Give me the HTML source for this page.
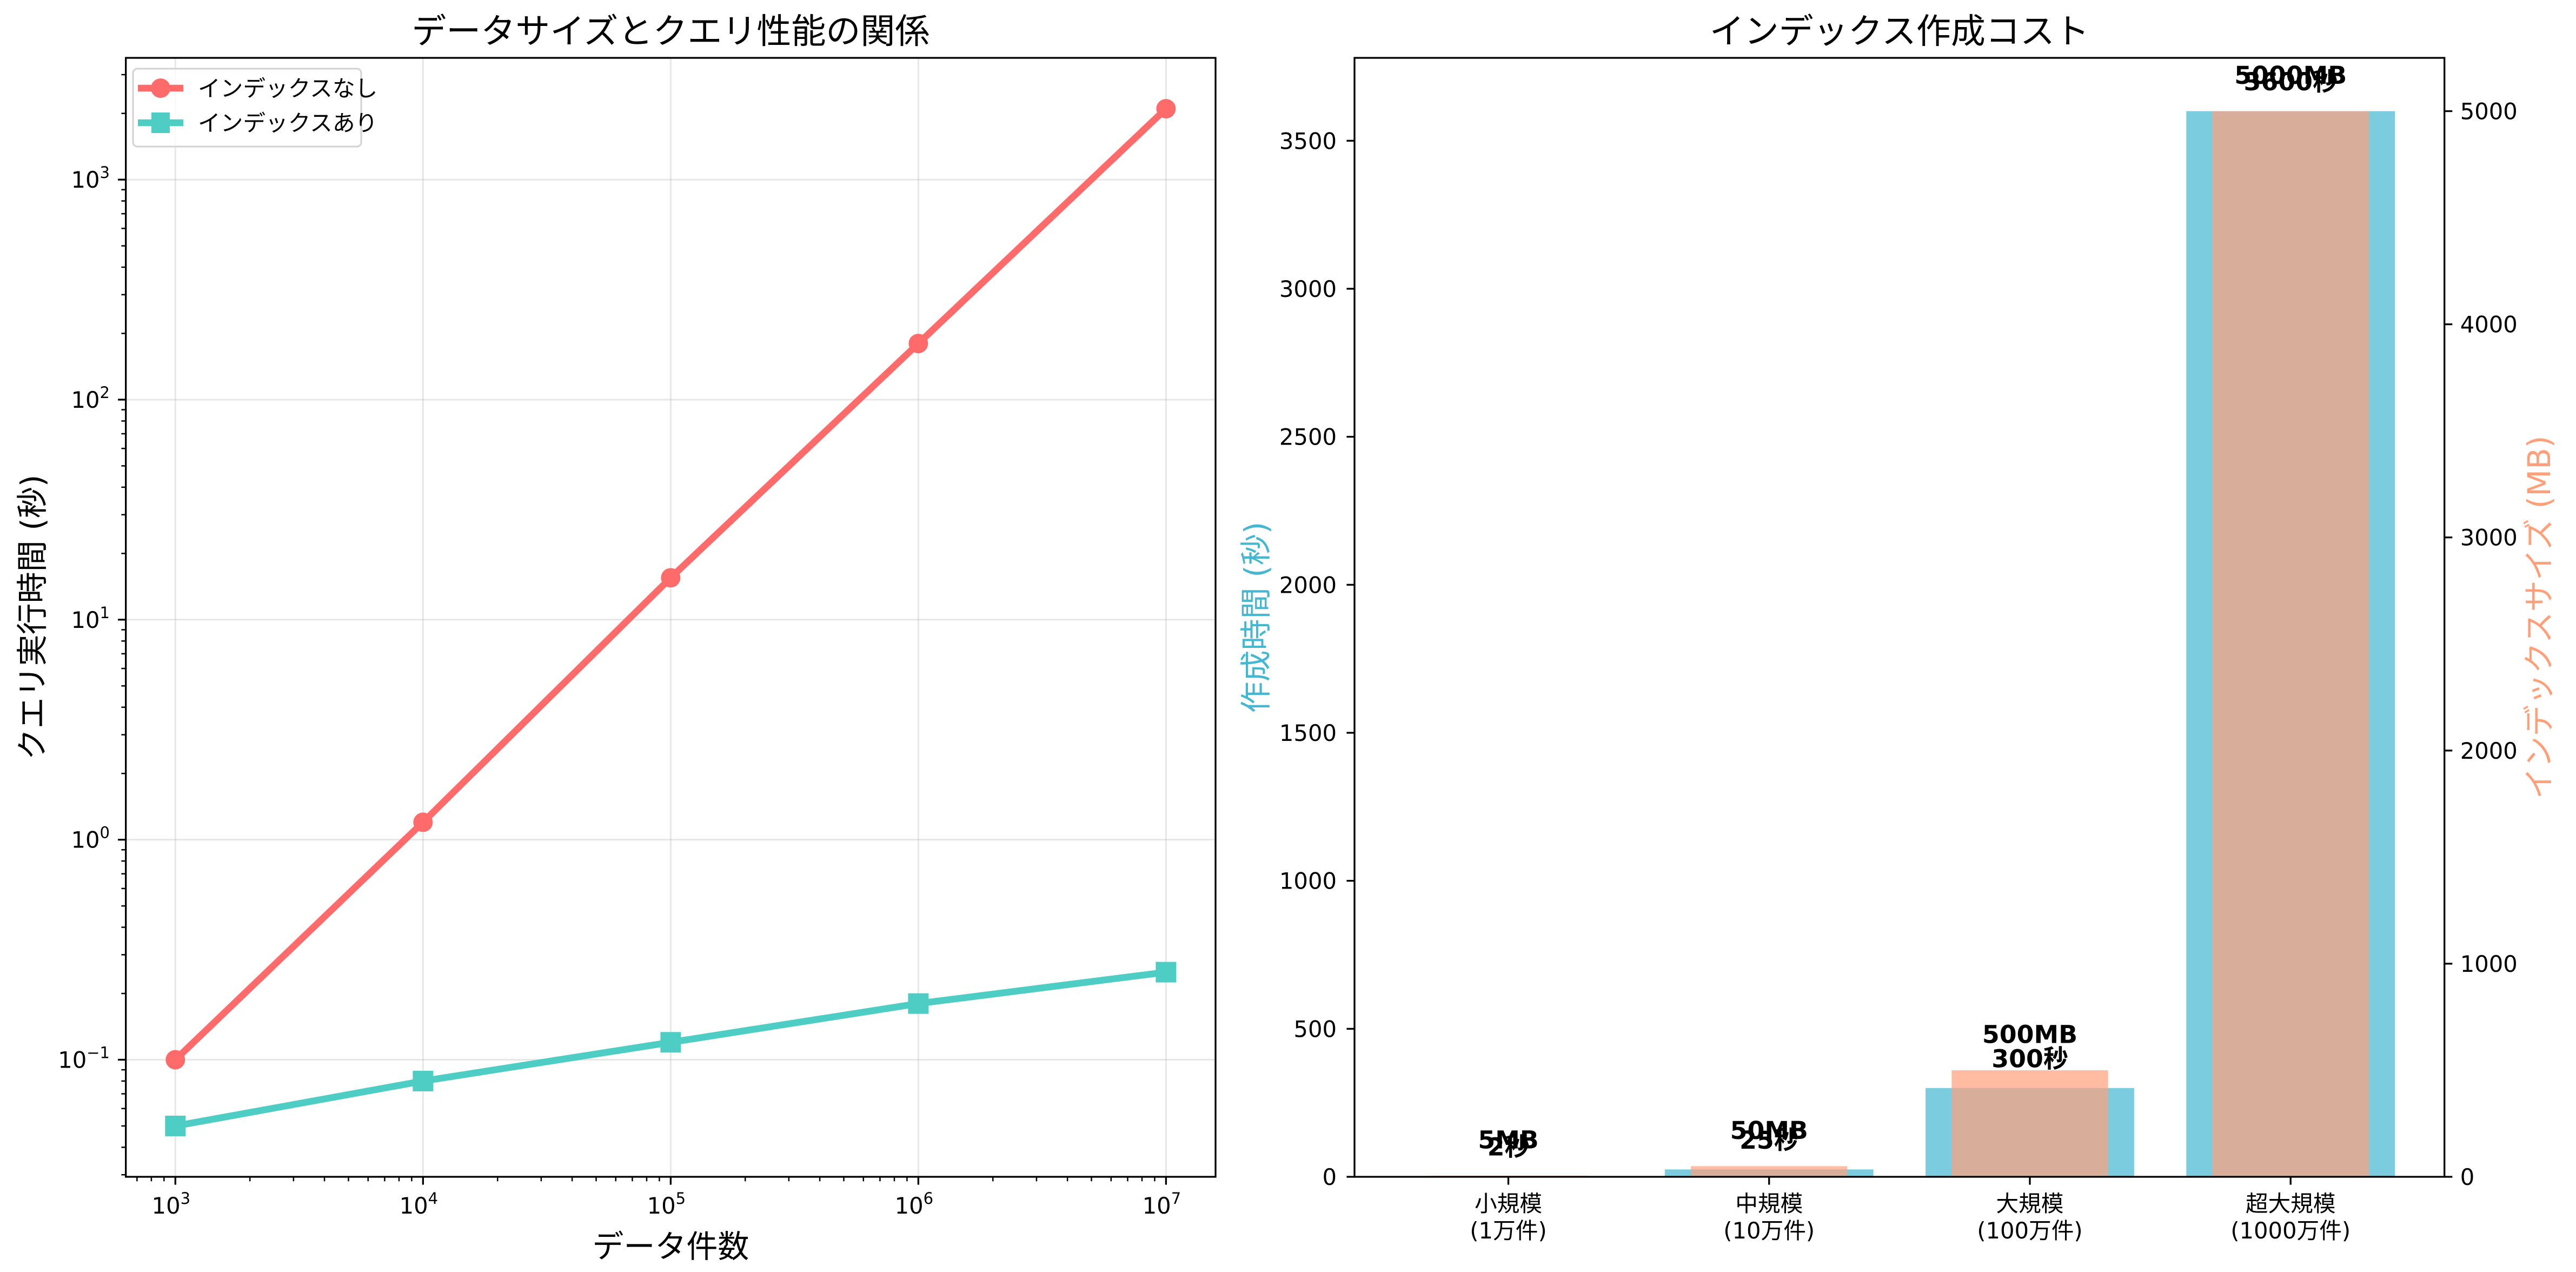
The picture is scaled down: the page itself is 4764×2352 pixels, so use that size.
<!DOCTYPE html>
<html><head><meta charset="utf-8">
<style>
html,body{margin:0;padding:0;background:#fff;}
svg{display:block;}
text{font-family:"DejaVu Sans","Liberation Sans","Noto Sans CJK JP",sans-serif;}
</style></head>
<body>
<svg id="fig" xmlns="http://www.w3.org/2000/svg" width="4764" height="2352" viewBox="0 0 4764 2352">
<rect x="0" y="0" width="4764" height="2352" fill="#fff"/>
<g id="left"></g>
<g id="right"></g>
</svg>
<script>
// ---- Left chart data ----
const dataSizes = [1e3, 1e4, 1e5, 1e6, 1e7];
const noIndexTimes = [0.1, 1.2, 15.5, 180, 2100];
const withIndexTimes = [0.05, 0.08, 0.12, 0.18, 0.25];
const xMajorExps = [3, 4, 5, 6, 7];
const yMajorExps = [-1, 0, 1, 2, 3];
// ---- Right chart data ----
const categories = [["小規模", "(1万件)"], ["中規模", "(10万件)"], ["大規模", "(100万件)"], ["超大規模", "(1000万件)"]];
const buildTimes = [2, 25, 300, 3600];
const indexSizes = [5, 50, 500, 5000];
const timeTicks = [0, 500, 1000, 1500, 2000, 2500, 3000, 3500];
const sizeTicks = [0, 1000, 2000, 3000, 4000, 5000];

const NS = "http://www.w3.org/2000/svg";
function mk(parent, tag, attrs, txt) {
  const e = document.createElementNS(NS, tag);
  for (const k in attrs) e.setAttribute(k, attrs[k]);
  if (txt !== undefined) e.textContent = txt;
  parent.appendChild(e);
  return e;
}
const log10 = Math.log10;

// ================= LEFT =================
(function () {
  const g = document.getElementById('left');
  const L = 232.7, R = 2248, T = 107, B = 2176;
  const xs = dataSizes.map(log10);
  const xlo = Math.min(...xs), xhi = Math.max(...xs), xsp = xhi - xlo;
  const x0 = xlo - 0.05 * xsp, x1 = xhi + 0.05 * xsp;
  const allY = noIndexTimes.concat(withIndexTimes).map(log10);
  const ylo = Math.min(...allY), yhi = Math.max(...allY), ysp = yhi - ylo;
  const y0 = ylo - 0.05 * ysp, y1 = yhi + 0.05 * ysp;
  const X = v => L + (log10(v) - x0) / (x1 - x0) * (R - L);
  const Y = v => B - (log10(v) - y0) / (y1 - y0) * (B - T);

  // grid
  xMajorExps.forEach(e => {
    const gl = mk(g, 'line', {x1: X(10 ** e), x2: X(10 ** e), y1: T, y2: B, stroke: '#b0b0b0', 'stroke-opacity': 0.3, 'stroke-width': 3});
    
    
  });
  yMajorExps.forEach(e => {
    const gl = mk(g, 'line', {x1: L, x2: R, y1: Y(10 ** e), y2: Y(10 ** e), stroke: '#b0b0b0', 'stroke-opacity': 0.3, 'stroke-width': 3});
    
    
  });

  // series
  function series(vals, color, marker, name) {
    const sg = mk(g, 'g', {});
    
    
    const pts = dataSizes.map((d, i) => X(d).toFixed(1) + ',' + Y(vals[i]).toFixed(1)).join(' ');
    const pl = mk(sg, 'polyline', {points: pts, fill: 'none', stroke: color, 'stroke-width': 12.5, 'stroke-linejoin': 'round', 'stroke-linecap': 'square'});
    
    
    dataSizes.forEach((d, i) => {
      let m;
      if (marker === 'circle') m = mk(sg, 'circle', {cx: X(d), cy: Y(vals[i]), r: 18, fill: color});
      else m = mk(sg, 'rect', {x: X(d) - 19, y: Y(vals[i]) - 19, width: 38, height: 38, fill: color});
      
      
    });
  }
  series(noIndexTimes, '#FF6B6B', 'circle', 'series-no-index');
  series(withIndexTimes, '#4ECDC4', 'square', 'series-with-index');

  // spines
  const sp = mk(g, 'rect', {x: L, y: T, width: R - L, height: B - T, fill: 'none', stroke: '#000', 'stroke-width': 3.3});
  
  

  // x ticks
  for (let e = Math.floor(x0); e <= Math.ceil(x1); e++) {
    for (let k = 1; k <= 9; k++) {
      const v = k * 10 ** e, lv = log10(v);
      if (lv < x0 || lv > x1) continue;
      const len = k === 1 ? 14.6 : 8.3;
      const t = mk(g, 'line', {x1: X(v), x2: X(v), y1: B, y2: B + len, stroke: '#000', 'stroke-width': k === 1 ? 3.3 : 2.5});
      
      
    }
  }
  xMajorExps.forEach(e => {
    const t = mk(g, 'text', {x: X(10 ** e) - 8, y: 2244, 'font-size': 41.7, 'text-anchor': 'middle'});
    
    
    mk(t, 'tspan', {}, '10');
    mk(t, 'tspan', {dy: -18, 'font-size': 29}, String(e));
  });
  // y ticks
  for (let e = Math.floor(y0); e <= Math.ceil(y1); e++) {
    for (let k = 1; k <= 9; k++) {
      const v = k * 10 ** e, lv = log10(v);
      if (lv < y0 || lv > y1) continue;
      const len = k === 1 ? 14.6 : 8.3;
      const t = mk(g, 'line', {x1: L - len, x2: L, y1: Y(v), y2: Y(v), stroke: '#000', 'stroke-width': k === 1 ? 3.3 : 2.5});
      
      
    }
  }
  yMajorExps.forEach(e => {
    const t = mk(g, 'text', {x: 203, y: Y(10 ** e) + 15, 'font-size': 41.7, 'text-anchor': 'end'});
    
    
    mk(t, 'tspan', {}, '10');
    mk(t, 'tspan', {dy: -18, 'font-size': 29}, e < 0 ? '\u2212' + (-e) : String(e));
  });

  // labels
  const title = mk(g, 'text', {x: (L + R) / 2, y: 80, 'font-size': 64, 'text-anchor': 'middle'}, 'データサイズとクエリ性能の関係');
  
  
  const xl = mk(g, 'text', {x: (L + R) / 2, y: 2325, 'font-size': 58, 'text-anchor': 'middle'}, 'データ件数');
  
  
  const yl = mk(g, 'text', {x: 0, y: 0, 'font-size': 58, 'text-anchor': 'middle', transform: `translate(80,${(T + B) / 2}) rotate(-90)`}, 'クエリ実行時間 (秒)');
  
  

  // legend
  const lg = mk(g, 'g', {});
  
  
  mk(lg, 'rect', {x: 246, y: 127, width: 422, height: 144, rx: 8, fill: '#fff', 'fill-opacity': 0.8, stroke: '#d5d5d5', 'stroke-width': 3.3});
  const entries = [['インデックスなし', '#FF6B6B', 'circle', 163], ['インデックスあり', '#4ECDC4', 'square', 227]];
  entries.forEach(([lab, col, m, yy]) => {
    const eg = mk(lg, 'g', {});
    
    
    mk(eg, 'line', {x1: 255, x2: 339, y1: yy, y2: yy, stroke: col, 'stroke-width': 12.5});
    if (m === 'circle') mk(eg, 'circle', {cx: 297, cy: yy, r: 18, fill: col});
    else mk(eg, 'rect', {x: 280, y: yy - 19, width: 34, height: 38, fill: col});
    mk(eg, 'text', {x: 366, y: yy + 15, 'font-size': 41.7}, lab);
  });
})();

// ================= RIGHT =================
(function () {
  const g = document.getElementById('right');
  const L = 2505, R = 4520.7, T = 107, B = 2176;
  const n = categories.length;
  const xa = -0.4 - 0.05 * (n - 1 + 0.8), xb = n - 1 + 0.4 + 0.05 * (n - 1 + 0.8);
  const X = i => L + (i - xa) / (xb - xa) * (R - L);
  const tMax = Math.max(...buildTimes) * 1.05;
  const sMax = Math.max(...indexSizes) * 1.05;
  const Yt = v => B - v / tMax * (B - T);
  const Ys = v => B - v / sMax * (B - T);
  const unit = (R - L) / (xb - xa);

  buildTimes.forEach((v, i) => {
    const r = mk(g, 'rect', {x: X(i) - 0.4 * unit, y: Yt(v), width: 0.8 * unit, height: B - Yt(v), fill: '#45B7D1', 'fill-opacity': 0.7});
    
    
  });
  indexSizes.forEach((v, i) => {
    const r = mk(g, 'rect', {x: X(i) - 0.3 * unit, y: Ys(v), width: 0.6 * unit, height: B - Ys(v), fill: '#FFA07A', 'fill-opacity': 0.7});
    
    
  });
  buildTimes.forEach((v, i) => {
    const t = mk(g, 'text', {x: X(i), y: Yt(v + 50) - 11, 'font-size': 45.8, 'font-weight': 'bold', 'text-anchor': 'middle'}, v + '秒');
    
    
  });
  indexSizes.forEach((v, i) => {
    const t = mk(g, 'text', {x: X(i), y: Ys(v + 100) - 11, 'font-size': 45.8, 'font-weight': 'bold', 'text-anchor': 'middle'}, v + 'MB');
    
    
  });

  const sp = mk(g, 'rect', {x: L, y: T, width: R - L, height: B - T, fill: 'none', stroke: '#000', 'stroke-width': 3.3});
  
  

  timeTicks.forEach(v => {
    const tk = mk(g, 'line', {x1: L - 14.6, x2: L, y1: Yt(v), y2: Yt(v), stroke: '#000', 'stroke-width': 3.3});
    
    
    const t = mk(g, 'text', {x: 2472, y: Yt(v) + 15, 'font-size': 41.7, 'text-anchor': 'end'}, String(v));
    
    
  });
  sizeTicks.forEach(v => {
    const tk = mk(g, 'line', {x1: R, x2: R + 14.6, y1: Ys(v), y2: Ys(v), stroke: '#000', 'stroke-width': 3.3});
    
    
    const t = mk(g, 'text', {x: R + 29, y: Ys(v) + 15, 'font-size': 41.7}, String(v));
    
    
  });
  categories.forEach((c, i) => {
    const tk = mk(g, 'line', {x1: X(i), x2: X(i), y1: B, y2: B + 14.6, stroke: '#000', 'stroke-width': 3.3});
    
    
    const t = mk(g, 'text', {x: X(i), y: 2240, 'font-size': 41.7, 'text-anchor': 'middle'});
    
    
    mk(t, 'tspan', {x: X(i)}, c[0]);
    mk(t, 'tspan', {x: X(i), dy: 50}, c[1]);
  });

  const title = mk(g, 'text', {x: (L + R) / 2, y: 80, 'font-size': 64, 'text-anchor': 'middle'}, 'インデックス作成コスト');
  
  
  const yl = mk(g, 'text', {x: 0, y: 0, 'font-size': 58, fill: '#45B7D1', 'text-anchor': 'middle', transform: `translate(2343,${(T + B) / 2}) rotate(-90)`}, '作成時間 (秒)');
  
  
  const yr = mk(g, 'text', {x: 0, y: 0, 'font-size': 58, fill: '#FFA07A', 'text-anchor': 'middle', transform: `translate(4716,${(T + B) / 2}) rotate(-90)`}, 'インデックスサイズ (MB)');
  
  
})();
</script>
</body></html>
